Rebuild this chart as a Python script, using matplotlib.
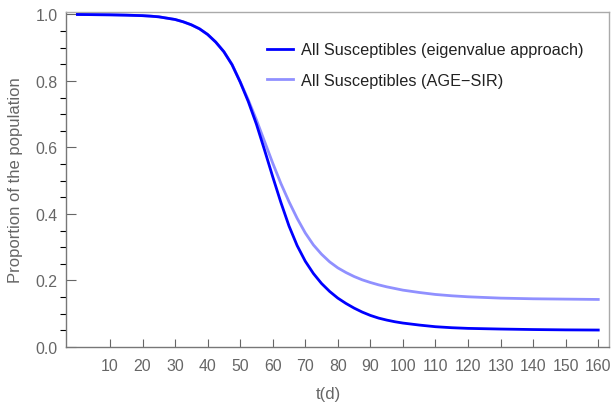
import numpy as np
import matplotlib.pyplot as plt

# time in days
t_days = [0, 5, 10, 15, 20, 22.5, 25, 27.5, 30, 32.5, 35, 37.5, 40, 42.5, 45,
          47.5, 50, 52.5, 55, 57.5, 60, 62.5, 65, 67.5, 70, 72.5, 75, 77.5,
          80, 82.5, 85, 87.5, 90, 92.5, 95, 97.5, 100, 105, 110, 115, 120,
          125, 130, 140, 150, 160]

# all susceptibles, eigenvalue approach
s_eigen = [1.0, 0.9995, 0.999, 0.998, 0.9965, 0.995, 0.993, 0.989, 0.985, 0.978,
           0.969, 0.957, 0.940, 0.917, 0.888, 0.849, 0.797, 0.738, 0.670, 0.592,
           0.512, 0.435, 0.364, 0.305, 0.258, 0.221, 0.191, 0.167, 0.147, 0.131,
           0.117, 0.105, 0.095, 0.087, 0.081, 0.076, 0.072, 0.066, 0.061, 0.058,
           0.056, 0.055, 0.054, 0.0525, 0.0515, 0.051]

# all susceptibles, AGE-SIR
s_agesir = [1.0, 0.9995, 0.999, 0.998, 0.9965, 0.995, 0.993, 0.989, 0.985, 0.978,
            0.969, 0.957, 0.940, 0.917, 0.888, 0.850, 0.798, 0.743, 0.683, 0.618,
            0.553, 0.492, 0.437, 0.387, 0.343, 0.307, 0.279, 0.256, 0.238, 0.224,
            0.212, 0.202, 0.194, 0.187, 0.181, 0.176, 0.171, 0.164, 0.158, 0.154,
            0.151, 0.149, 0.147, 0.145, 0.144, 0.143]

x_ticks = list(range(10, 170, 10))
y_ticks = [0.0, 0.2, 0.4, 0.6, 0.8, 1.0]

plt.rcParams["font.family"] = ["Liberation Sans", "DejaVu Sans"]

fig = plt.figure(figsize=(6.13, 4.10), dpi=100)
ax = fig.add_axes([66 / 613, 62 / 410, 543 / 613, 335.5 / 410])

ax.plot(t_days, s_eigen, color="#0000ff", linewidth=2.0,
        label="All Susceptibles (eigenvalue approach)", zorder=3)
ax.plot(t_days, s_agesir, color="#9090ff", linewidth=2.0,
        label="All Susceptibles (AGE\u2212SIR)", zorder=2)

ax.set_xlim(-3.5, 163.3)
ax.set_ylim(0, 1.009)

ax.set_xticks(x_ticks)
ax.set_yticks(y_ticks)
ax.set_yticklabels([f"{v:.1f}" for v in y_ticks])
ax.set_yticks(np.arange(0, 1.001, 0.05), minor=True)

ax.tick_params(axis="both", direction="in", colors="#666666",
               labelsize=11.4, labelcolor="#666666")
ax.tick_params(axis="y", which="major", length=7, width=0.8, pad=6)
ax.tick_params(axis="y", which="minor", length=4, width=0.8)
ax.tick_params(axis="x", which="major", length=6, width=0.8, pad=8)

for side in ["left", "bottom"]:
    ax.spines[side].set_color("#777777")
    ax.spines[side].set_linewidth(1.0)
for side in ["top", "right"]:
    ax.spines[side].set_color("#aaaaaa")
    ax.spines[side].set_linewidth(1.0)

ax.set_xlabel("t(d)", fontsize=12, color="#666666")
ax.set_ylabel("Proportion of the population", fontsize=12, color="#666666")
ax.xaxis.set_label_coords((328 - 66) / 543, -(395 - 348) / 335.5, transform=ax.transAxes)
ax.yaxis.set_label_coords(-(66 - 16) / 543, 0.5)
ax.xaxis.label.set_verticalalignment("center")
ax.yaxis.label.set_verticalalignment("center")

leg = ax.legend(loc="center left", bbox_to_anchor=((266.7 - 66) / 543, 0.84),
                frameon=False, fontsize=11.7, borderpad=0, borderaxespad=0,
                handlelength=1.6, handletextpad=0.5, labelspacing=0.95)
for txt in leg.get_texts():
    txt.set_color("#222222")

fig.savefig("out.png", dpi=100)
